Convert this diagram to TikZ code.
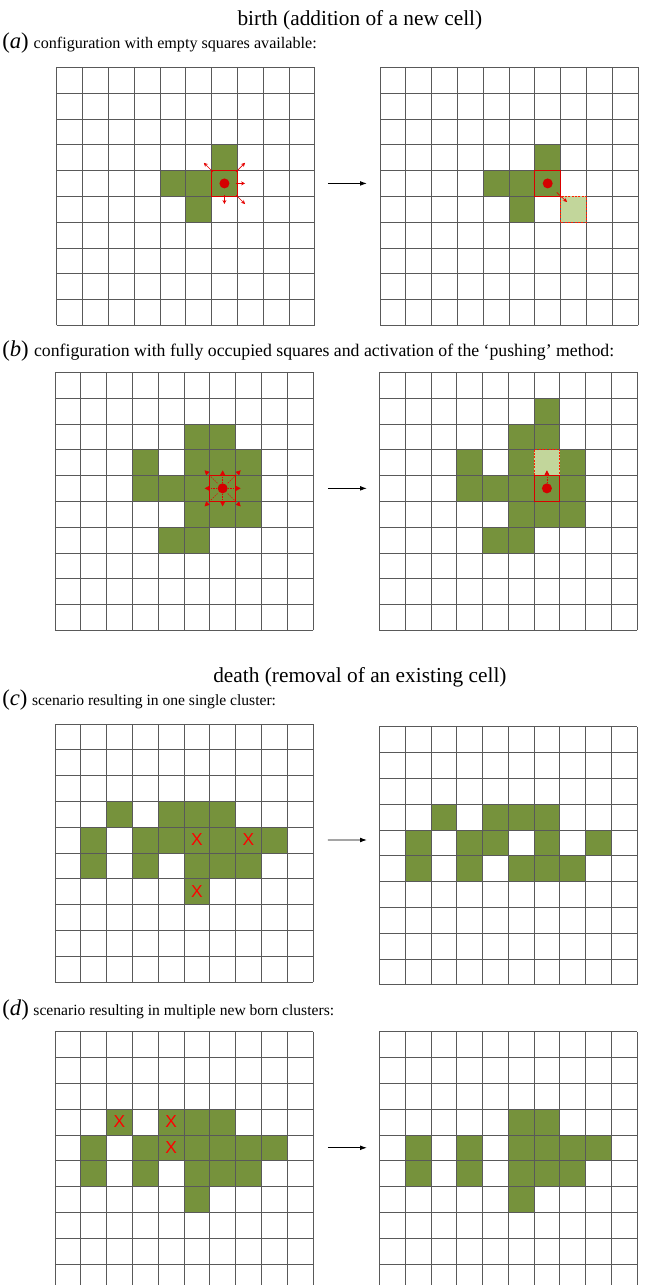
\documentclass[tikz,border=0pt]{standalone}
\usepackage{fontspec}
\setmainfont{Liberation Serif}
\newfontfamily\xfont{Liberation Sans}
\usetikzlibrary{arrows.meta,calc}

\definecolor{olive}{HTML}{76923C}
\definecolor{palegreen}{HTML}{C2D69B}
\definecolor{dotred}{HTML}{D40000}

\tikzset{
  gridline/.style={black!65, line width=0.5pt, step=1},
  cellfill/.style={fill=olive},
  newcell/.style={fill=palegreen, draw=red!75!orange, line width=0.5pt, dash pattern=on 1.5pt off 1pt},
  hotcell/.style={draw=red!85!black, line width=0.6pt},
  dot/.style={circle, fill=dotred, inner sep=0pt, minimum size=7.5pt},
  pusharrow/.style={red!90!black, line width=0.5pt, -{Stealth[length=3pt,width=3pt]}},
  probearrow/.style={red!90!black, line width=0.4pt, dash pattern=on 1pt off 1pt, -{Triangle[length=3.5pt,width=3.5pt]}},
  stepgo/.style={black, line width=0.6pt, -{Latex[length=5pt,width=3.5pt]}},
  xmark/.style={text=red, font=\xfont\fontsize{13}{15}\selectfont, inner sep=0pt},
  headline/.style={font=\fontsize{16}{19}\selectfont},
  caseline/.style={anchor=west, inner sep=0pt, font=\fontsize{11.7}{14}\selectfont}
}

\newcommand{\cellgrid}[1]{%
  \foreach \c/\r in {#1} \fill[cellfill] (\c,-\r) rectangle ++(1,-1);
  \draw[gridline] (0,-10) grid (10,0);}
\newcommand{\caselabel}[2]{{\fontsize{17}{19}\selectfont(\textit{#1})}\hspace{0.3em}#2}

\begin{document}
\begin{tikzpicture}[x=19.35pt, y=19.35pt]
    \useasboundingbox (0,0) rectangle (25.27,-49.81);

    \node[headline] (birth) at (13.95,-0.78) {birth (addition of a new cell)};
    \node[caseline, font=\fontsize{12.1}{14}\selectfont] (casea) at (0.08,-1.66) {\caselabel{a}{configuration with empty squares available:}};
    \node[caseline, font=\fontsize{13.3}{16}\selectfont] (caseb) at (0.08,-13.62) {\caselabel{b}{configuration with fully occupied squares and activation of the ‘pushing’ method:}};
    \node[headline] (death) at (13.95,-26.24) {death (removal of an existing cell)};
    \node[caseline] (casec) at (0.08,-27.15) {\caselabel{c}{scenario resulting in one single cluster:}};
    \node[caseline] (cased) at (0.08,-39.17) {\caselabel{d}{scenario resulting in multiple new born clusters:}};

    % (a) empty squares available
    \begin{scope}[shift={(2.20,-2.61)}]
        \cellgrid{6/3, 4/4, 5/4, 6/4, 5/5}
        \draw[hotcell] (6,-4) rectangle ++(1,-1);
        \node[dot] (aLdot) at (6.5,-4.5) {};
        \foreach \dx/\dy in {-1/1, 1/1, 1/0, 0/-1, 1/-1}
            \draw[pusharrow] (aLdot) ++(0.45*\dx,0.45*\dy) -- ++(0.35*\dx,0.35*\dy);
        \coordinate (aGo) at (10.51,-4.5);
    \end{scope}
    \begin{scope}[shift={(14.73,-2.61)}]
        \cellgrid{6/3, 4/4, 5/4, 6/4, 5/5}
        \draw[newcell] (7,-5) rectangle ++(1,-1);
        \draw[hotcell] (6,-4) rectangle ++(1,-1);
        \node[dot] (aRdot) at (6.5,-4.5) {};
        \draw[pusharrow] (aRdot) ++(0.35,-0.35) -- ++(0.4,-0.37);
        \coordinate (aStop) at (-0.51,-4.5);
    \end{scope}
    \draw[stepgo] (aGo) -- (aStop);

    % (b) fully occupied, pushing
    \begin{scope}[shift={(2.13,-14.43)}]
        \cellgrid{5/2, 6/2, 3/3, 5/3, 6/3, 7/3, 3/4, 4/4, 5/4, 6/4, 7/4, 5/5, 6/5, 7/5, 4/6, 5/6}
        \draw[hotcell] (6,-4) rectangle ++(1,-1);
        \node[dot] (bLdot) at (6.5,-4.5) {};
        \foreach \dx/\dy in {-1/1, 0/1, 1/1, -1/0, 1/0, -1/-1, 0/-1, 1/-1}
            \draw[probearrow] (bLdot) ++(0.2*\dx,0.2*\dy) -- ++(0.5*\dx,0.5*\dy);
        \coordinate (bGo) at (10.58,-4.5);
    \end{scope}
    \begin{scope}[shift={(14.70,-14.43)}]
        \cellgrid{6/1, 5/2, 6/2, 3/3, 5/3, 7/3, 3/4, 4/4, 5/4, 6/4, 7/4, 5/5, 6/5, 7/5, 4/6, 5/6}
        \draw[newcell] (6,-3) rectangle ++(1,-1);
        \draw[hotcell] (6,-4) rectangle ++(1,-1);
        \node[dot] (bRdot) at (6.5,-4.5) {};
        \draw[probearrow] (bRdot) ++(0,0.2) -- ++(0,0.5);
        \coordinate (bStop) at (-0.48,-4.5);
    \end{scope}
    \draw[stepgo] (bGo) -- (bStop);

    % (c) one single cluster
    \begin{scope}[shift={(2.13,-28.06)}]
        \cellgrid{2/3, 4/3, 5/3, 6/3, 1/4, 3/4, 4/4, 5/4, 6/4, 7/4, 8/4, 1/5, 3/5, 5/5, 6/5, 7/5, 5/6}
        \node[xmark] (cX1) at (5.5,-4.5) {X};
        \node[xmark] (cX2) at (7.5,-4.5) {X};
        \node[xmark] (cX3) at (5.5,-6.5) {X};
        \coordinate (cGo) at (10.58,-4.5);
    \end{scope}
    \begin{scope}[shift={(14.70,-28.17)}]
        \cellgrid{2/3, 4/3, 5/3, 6/3, 1/4, 3/4, 4/4, 6/4, 8/4, 1/5, 3/5, 5/5, 6/5, 7/5}
        \coordinate (cStop) at (-0.48,-4.39);
    \end{scope}
    \draw[stepgo] (cGo) -- (cStop);

    % (d) multiple new born clusters
    \begin{scope}[shift={(2.13,-39.99)}]
        \cellgrid{2/3, 4/3, 5/3, 6/3, 1/4, 3/4, 4/4, 5/4, 6/4, 7/4, 8/4, 1/5, 3/5, 5/5, 6/5, 7/5, 5/6}
        \node[xmark] (dX1) at (2.5,-3.5) {X};
        \node[xmark] (dX2) at (4.5,-3.5) {X};
        \node[xmark] (dX3) at (4.5,-4.5) {X};
        \coordinate (dGo) at (10.58,-4.5);
    \end{scope}
    \begin{scope}[shift={(14.70,-39.99)}]
        \cellgrid{5/3, 6/3, 1/4, 3/4, 5/4, 6/4, 7/4, 8/4, 1/5, 3/5, 5/5, 6/5, 7/5, 5/6}
        \coordinate (dStop) at (-0.48,-4.5);
    \end{scope}
    \draw[stepgo] (dGo) -- (dStop);
\end{tikzpicture}
\end{document}
